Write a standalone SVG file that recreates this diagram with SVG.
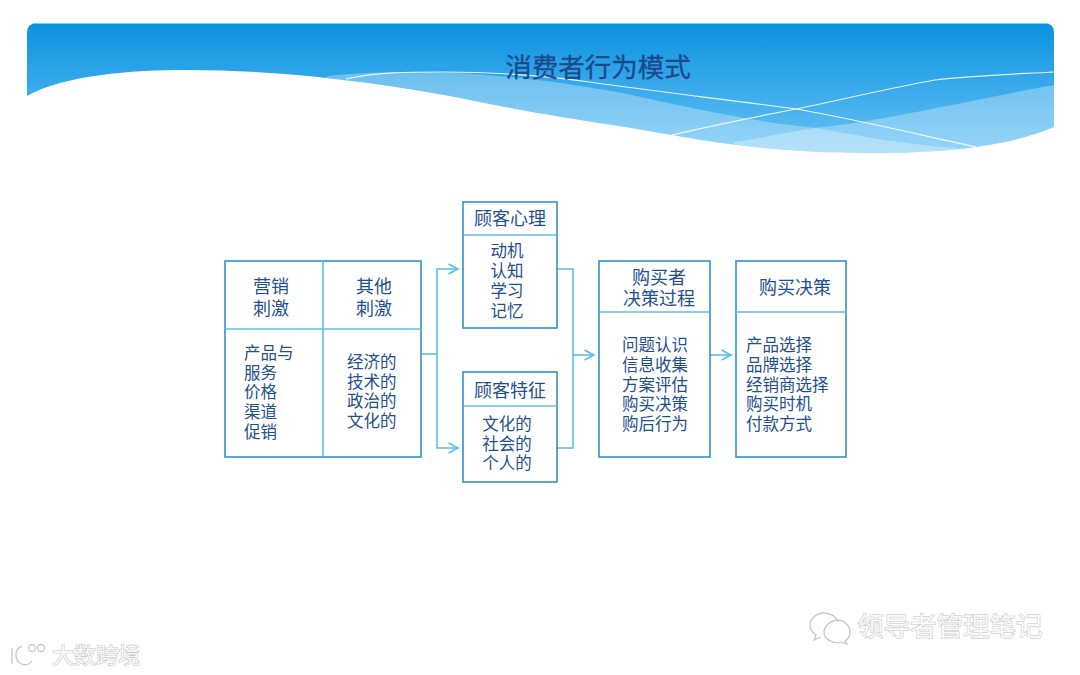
<svg xmlns="http://www.w3.org/2000/svg" width="1080" height="675" viewBox="0 0 1080 675">
<style>
text{font-family:"Noto Sans CJK SC","Noto Sans",sans-serif;fill:#1f4f8f}
.h{font-size:18px;text-anchor:middle}
.b{font-size:16.5px}
.m{text-anchor:middle}
.box{fill:#fff;stroke:#2f93c9;stroke-width:1.6}
.div{fill:none;stroke:#62bdea;stroke-width:1.6}
.c{fill:none;stroke:#5cbcf0;stroke-width:1.6}
.wm{fill:#fafafa;stroke:#c4c4c4;stroke-width:1.1;paint-order:stroke}
.lg{fill:none;stroke:#c8c8c8;stroke-width:1.3}
.lw{fill:none;stroke:#fff;stroke-width:1.2;opacity:.85}
</style>
<defs>
<linearGradient id="g" x1="0" y1="0" x2="0" y2="1"><stop offset="0" stop-color="#0a92e0"/><stop offset="1" stop-color="#6cc4f6"/></linearGradient>
<clipPath id="hc"><path d="M27,96V33Q27,23 37,23H1044Q1054,23 1054,33V127C1000,150 925,153 866,153C810,153 740,148 672,135C600,122 570,120 485,103C400,85 290,70 187,70C130,70 65,75 27,96Z"/></clipPath>
<marker id="a" markerWidth="12" markerHeight="14" refX="10.5" refY="6" orient="auto" markerUnits="userSpaceOnUse"><path d="M1,1L10.5,6L1,11" fill="none" stroke="#5cbcf0" stroke-width="1.6"/></marker>
</defs>
<rect width="1080" height="675" fill="#fff"/>
<g id="header" clip-path="url(#hc)">
<rect x="27" y="23" width="1027" height="135" fill="url(#g)"/>
<path d="M325,77C350,72 430,70 485,75C530,78 570,84 623,93C690,108 760,123 817,128C870,138 920,146 956,148L956,160H325Z" fill="#fff" opacity=".3"/>
<path d="M1054,85C970,100 880,122 814,128C785,133 755,139 734,142V160H1054Z" fill="#fff" opacity=".3"/>
<path class="lw" d="M346,79C375,72 410,72 443,72C490,72 540,75 589,82C660,92 730,100 796,109C860,120 920,135 976,147"/>
<path class="lw" d="M672,135C715,125 755,117 796,109C840,100 890,88 935,80C975,75 1020,74 1054,72"/>
<rect x="27" y="23" width="1027" height="1" fill="#7dd0f6"/>
</g>
<text id="title" x="598" y="77" text-anchor="middle" font-size="26.5" style="fill:#1a4a8c;stroke:#1a4a8c;stroke-width:.3">消费者行为模式</text>
<g id="connectors">
<path class="c" d="M421,354H437"/>
<path class="c" d="M437,354V269H458" marker-end="url(#a)"/>
<path class="c" d="M437,354V448H458" marker-end="url(#a)"/>
<path class="c" d="M557,269H573V448H557"/>
<path class="c" d="M573,355H594" marker-end="url(#a)"/>
<path class="c" d="M710,355H731" marker-end="url(#a)"/>
</g>
<g id="stimulus">
<rect class="box" x="225" y="261" width="196" height="196"/>
<path class="div" d="M225,329H421M323,261V457"/>
<text class="h" x="271" y="292.500">营销</text><text class="h" x="271" y="314.500">刺激</text>
<text class="h" x="374" y="292.500">其他</text><text class="h" x="374" y="314.500">刺激</text>
<g class="b"><text class="b" x="244" y="359">产品与</text><text class="b" x="244" y="379">服务</text><text class="b" x="244" y="398">价格</text><text class="b" x="244" y="418">渠道</text><text class="b" x="244" y="438">促销</text></g>
<text class="b" x="347" y="368">经济的</text><text class="b" x="347" y="388">技术的</text><text class="b" x="347" y="407">政治的</text><text class="b" x="347" y="427">文化的</text>
</g>
<g id="psychology">
<rect class="box" x="463" y="202" width="94" height="126"/>
<path class="div" d="M463,235H557"/>
<text class="h" x="510" y="224.500">顾客心理</text>
<text class="b m" x="507" y="257">动机</text><text class="b m" x="507" y="277">认知</text><text class="b m" x="507" y="297">学习</text><text class="b m" x="507" y="317">记忆</text>
</g>
<g id="traits">
<rect class="box" x="463" y="372" width="94" height="110"/>
<path class="div" d="M463,406H557"/>
<text class="h" x="510" y="396.500">顾客特征</text>
<text class="b m" x="507" y="430">文化的</text><text class="b m" x="507" y="450">社会的</text><text class="b m" x="507" y="469">个人的</text>
</g>
<g id="process">
<rect class="box" x="599" y="261" width="111" height="196"/>
<path class="div" d="M599,312H710"/>
<text class="h" x="659" y="283.500">购买者</text><text class="h" x="659" y="304.500">决策过程</text>
<text class="b" x="622" y="351">问题认识</text><text class="b" x="622" y="371">信息收集</text><text class="b" x="622" y="391">方案评估</text><text class="b" x="622" y="410">购买决策</text><text class="b" x="622" y="430">购后行为</text>
</g>
<g id="decision">
<rect class="box" x="736" y="261" width="110" height="196"/>
<path class="div" d="M736,312H846"/>
<text class="h" x="795" y="293.500">购买决策</text>
<text class="b" x="746" y="351">产品选择</text><text class="b" x="746" y="371">品牌选择</text><text class="b" x="746" y="391">经销商选择</text><text class="b" x="746" y="410">购买时机</text><text class="b" x="746" y="430">付款方式</text>
</g>
<g id="watermark-left">
<path class="lg" d="M12,648V664M22,646C15,648 13,660 22,664C26,666 30,664 32,661"/>
<circle class="lg" cx="32" cy="648" r="3.500"/><circle class="lg" cx="41" cy="648" r="3.500"/>
<text class="wm" x="52" y="663" font-size="22">大数跨境</text>
</g>
<g id="watermark-right">
<path class="lg" d="M824,613C816,613 810,619 810,625C810,630 813,633 816,635L814,640L821,637"/>
<path class="lg" d="M824,613C831,613 837,617 838,622"/>
<path class="lg" d="M838,620C844,620 850,626 850,632C850,636 848,639 845,641L847,644L841,642C834,644 824,640 824,632C824,626 831,620 838,620Z"/>
<text class="wm" x="857" y="636" font-size="26.500">领导者管理笔记</text>
</g>
</svg>
